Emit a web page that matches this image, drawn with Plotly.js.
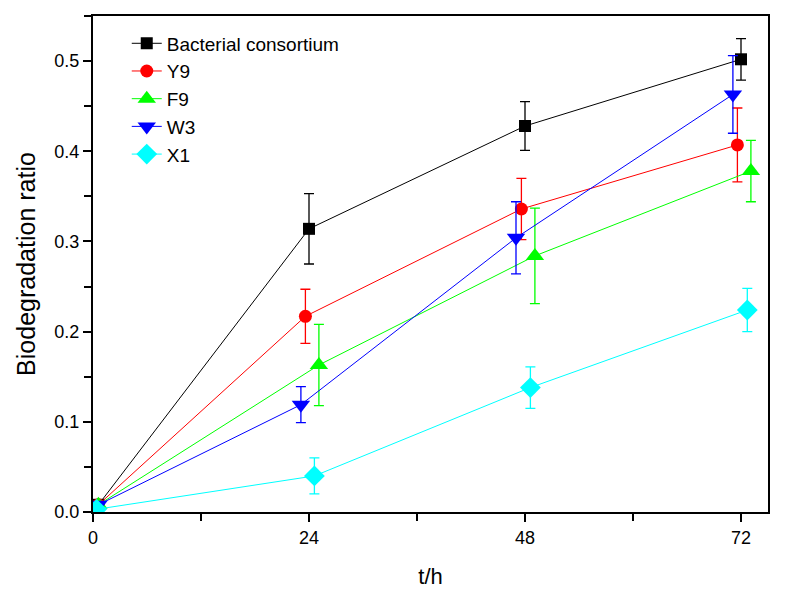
<!DOCTYPE html>
<html>
<head>
<meta charset="utf-8">
<script src="https://cdn.plot.ly/plotly-3.0.1.min.js"></script>
<style>html,body{margin:0;padding:0;background:#fff;}#chart{width:787px;height:594px;}</style>
</head>
<body>
<div id="chart"></div>
<script>
// Data (x positions are slightly staggered in the original)
const seriesNames = ["Bacterial consortium", "Y9", "F9", "W3", "X1"];
const colors = ["#000000", "#FF0000", "#00FF00", "#0000FF", "#00FFFF"];
const symbols = ["square", "circle", "triangle-up", "triangle-down", "diamond"];

const bacX = [0.6, 24, 48, 72];
const bacY = [0.008, 0.314, 0.428, 0.502];
const bacErr = [0, 0.039, 0.027, 0.023];

const y9X = [0.6, 23.6, 47.6, 71.6];
const y9Y = [0.008, 0.217, 0.336, 0.407];
const y9Err = [0, 0.030, 0.034, 0.041];

const f9X = [0.6, 25.1, 49.1, 73.1];
const f9Y = [0.008, 0.163, 0.284, 0.378];
const f9Err = [0, 0.045, 0.053, 0.034];

const w3X = [0.6, 23.1, 47.0, 71.1];
const w3Y = [0.008, 0.119, 0.304, 0.463];
const w3Err = [0, 0.020, 0.040, 0.043];

const x1X = [0.4, 24.6, 48.6, 72.7];
const x1Y = [0.003, 0.040, 0.138, 0.224];
const x1Err = [0, 0.020, 0.023, 0.024];

const xTickVals = [0, 24, 48, 72];
const xTickText = ["0", "24", "48", "72"];
const yTickVals = [0.0, 0.1, 0.2, 0.3, 0.4, 0.5];
const yTickText = ["0.0", "0.1", "0.2", "0.3", "0.4", "0.5"];

const xs = [bacX, y9X, f9X, w3X, x1X];
const ys = [bacY, y9Y, f9Y, w3Y, x1Y];
const errs = [bacErr, y9Err, f9Err, w3Err, x1Err];
const msizes = [12, 13, 16, 16, 16];

const traces = seriesNames.map((name, i) => ({
  type: "scatter",
  mode: "lines+markers",
  name: name,
  x: xs[i],
  y: ys[i],
  line: {color: colors[i], width: 1},
  marker: {color: colors[i], symbol: symbols[i], size: msizes[i]},
  error_y: {type: "data", array: errs[i], visible: true, color: colors[i], thickness: 1.3, width: 5}
}));

const font = "Liberation Sans, Arial, sans-serif";
const layout = {
  width: 787, height: 594,
  margin: {l: 93, r: 19, t: 16, b: 82},
  paper_bgcolor: "#fff", plot_bgcolor: "#fff",
  font: {family: font, color: "#000", size: 18},
  showlegend: true,
  legend: {x: 0.05, y: 0.983, xanchor: "left", yanchor: "top", bgcolor: "rgba(0,0,0,0)",
           font: {family: font, size: 19, color: "#000"}, borderwidth: 0},
  xaxis: {
    range: [0, 75], showgrid: false, zeroline: false,
    showline: true, linecolor: "#000", linewidth: 2, mirror: true,
    ticks: "outside", ticklen: 8, tickwidth: 2, tickcolor: "#000",
    tickvals: xTickVals, ticktext: xTickText,
    tickfont: {family: font, size: 18, color: "#000"},
    minor: {dtick: 12, tick0: 0, ticks: "outside", ticklen: 7, tickwidth: 2, tickcolor: "#000", showgrid: false},
    title: {text: "t/h", font: {family: font, size: 22, color: "#000"}, standoff: 22}
  },
  yaxis: {
    range: [0, 0.55], showgrid: false, zeroline: false,
    showline: true, linecolor: "#000", linewidth: 2, mirror: true,
    ticks: "outside", ticklen: 8, tickwidth: 2, tickcolor: "#000",
    tickvals: yTickVals, ticktext: yTickText,
    tickfont: {family: font, size: 18, color: "#000"},
    minor: {dtick: 0.05, tick0: 0, ticks: "outside", ticklen: 7, tickwidth: 2, tickcolor: "#000", showgrid: false},
    title: {text: "Biodegradation ratio", font: {family: font, size: 25, color: "#000"}, standoff: 12}
  }
};

Plotly.newPlot("chart", traces, layout, {displayModeBar: false, staticPlot: true});
</script>
</body>
</html>
